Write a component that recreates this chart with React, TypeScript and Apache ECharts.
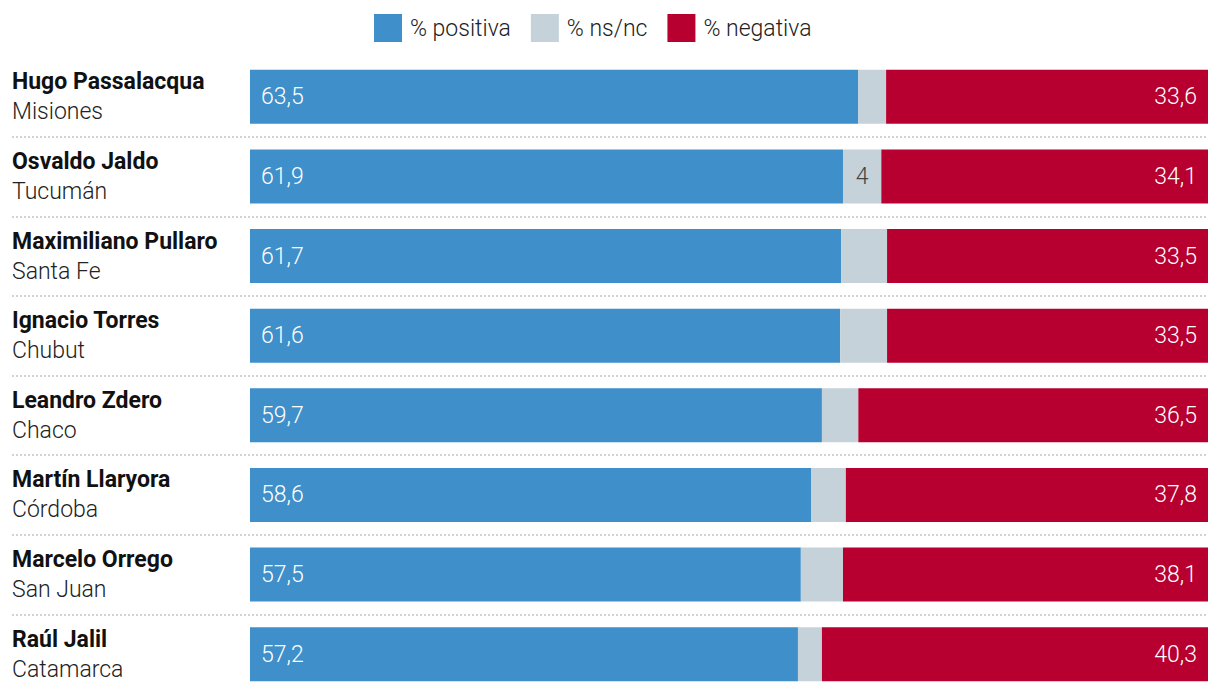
import React, { useEffect, useRef } from "react";
import * as echarts from "echarts";

const names = [
  "Hugo Passalacqua",
  "Osvaldo Jaldo",
  "Maximiliano Pullaro",
  "Ignacio Torres",
  "Leandro Zdero",
  "Martín Llaryora",
  "Marcelo Orrego",
  "Raúl Jalil",
];
const provinces = ["Misiones", "Tucumán", "Santa Fe", "Chubut", "Chaco", "Córdoba", "San Juan", "Catamarca"];
const positiva = [63.5, 61.9, 61.7, 61.6, 59.7, 58.6, 57.5, 57.2];
const nsnc = [2.9, 4, 4.8, 4.9, 3.8, 3.6, 4.4, 2.5];
const negativa = [33.6, 34.1, 33.5, 33.5, 36.5, 37.8, 38.1, 40.3];
const nsncLabelShown = [false, true, false, false, false, false, false, false];

const fmt = (v: number) => String(v).replace(".", ",");

export default function App() {
  const ref = useRef<HTMLDivElement>(null);
  useEffect(() => {
    if (!ref.current) return;
    const chart = echarts.init(ref.current, null, { renderer: "svg" });
    const cats = names.map((n, i) => n + "|" + provinces[i]);
    const font = "Roboto, 'Noto Sans', sans-serif";
    chart.setOption({
      animation: false,
      textStyle: { fontFamily: font },
      legend: {
        top: 9,
        left: 369,
        itemWidth: 28,
        itemHeight: 28,
        itemGap: 20,
        icon: "rect",
        textStyle: { fontSize: 23, fontWeight: 300, color: "#222", fontFamily: font, padding: [0, 0, 0, 3] },
        data: ["% positiva", "% ns/nc", "% negativa"],
      },
      grid: { left: 12, right: 12, top: 57, height: 638, containLabel: false },
      xAxis: {
        type: "value",
        min: -24.84,
        max: 100,
        show: false,
      },
      yAxis: {
        type: "category",
        inverse: true,
        data: cats,
        axisLine: { show: false },
        axisTick: { show: false },
        splitLine: {
          show: true,
          showMinLine: false,
          showMaxLine: false,
          lineStyle: { color: "#d2d2d2", type: [2, 2], width: 2 },
        },
        axisLabel: {
          inside: true,
          margin: 0,
          align: "left",
          verticalAlign: "middle",
          formatter: (v: string) => {
            const [n, p] = v.split("|");
            return "{n|" + n + "}\n{p|" + p + "}";
          },
          rich: {
            n: { fontSize: 23, fontWeight: "bold", color: "#111", lineHeight: 30, fontFamily: font },
            p: { fontSize: 23, fontWeight: 300, color: "#222", lineHeight: 30, fontFamily: font },
          },
        },
      },
      series: [
        {
          name: "% positiva",
          type: "bar",
          stack: "t",
          barWidth: 54,
          itemStyle: { color: "#3f8fca" },
          label: {
            show: true,
            position: "insideLeft",
            distance: 11,
            color: "#fff",
            fontSize: 23,
            fontWeight: 300,
            fontFamily: font,
            formatter: (p: any) => fmt(p.value),
          },
          data: positiva,
        },
        {
          name: "% ns/nc",
          type: "bar",
          stack: "t",
          barWidth: 54,
          itemStyle: { color: "#c6d2d9" },
          data: nsnc.map((v, i) => ({
            value: v,
            label: {
              show: nsncLabelShown[i],
              position: "inside",
              color: "#444",
              fontSize: 23,
              fontWeight: 300,
              fontFamily: font,
              formatter: (p: any) => fmt(p.value),
            },
          })),
        },
        {
          name: "% negativa",
          type: "bar",
          stack: "t",
          barWidth: 54,
          itemStyle: { color: "#b70030" },
          label: {
            show: true,
            position: "insideRight",
            distance: 11,
            color: "#fff",
            fontSize: 23,
            fontWeight: 300,
            fontFamily: font,
            formatter: (p: any) => fmt(p.value),
          },
          data: negativa,
        },
      ],
    });
    return () => chart.dispose();
  }, []);
  return (
    <div
      ref={ref}
      style={{ position: "fixed", left: 0, top: 0, width: 1220, height: 694, background: "#fff" }}
    />
  );
}
